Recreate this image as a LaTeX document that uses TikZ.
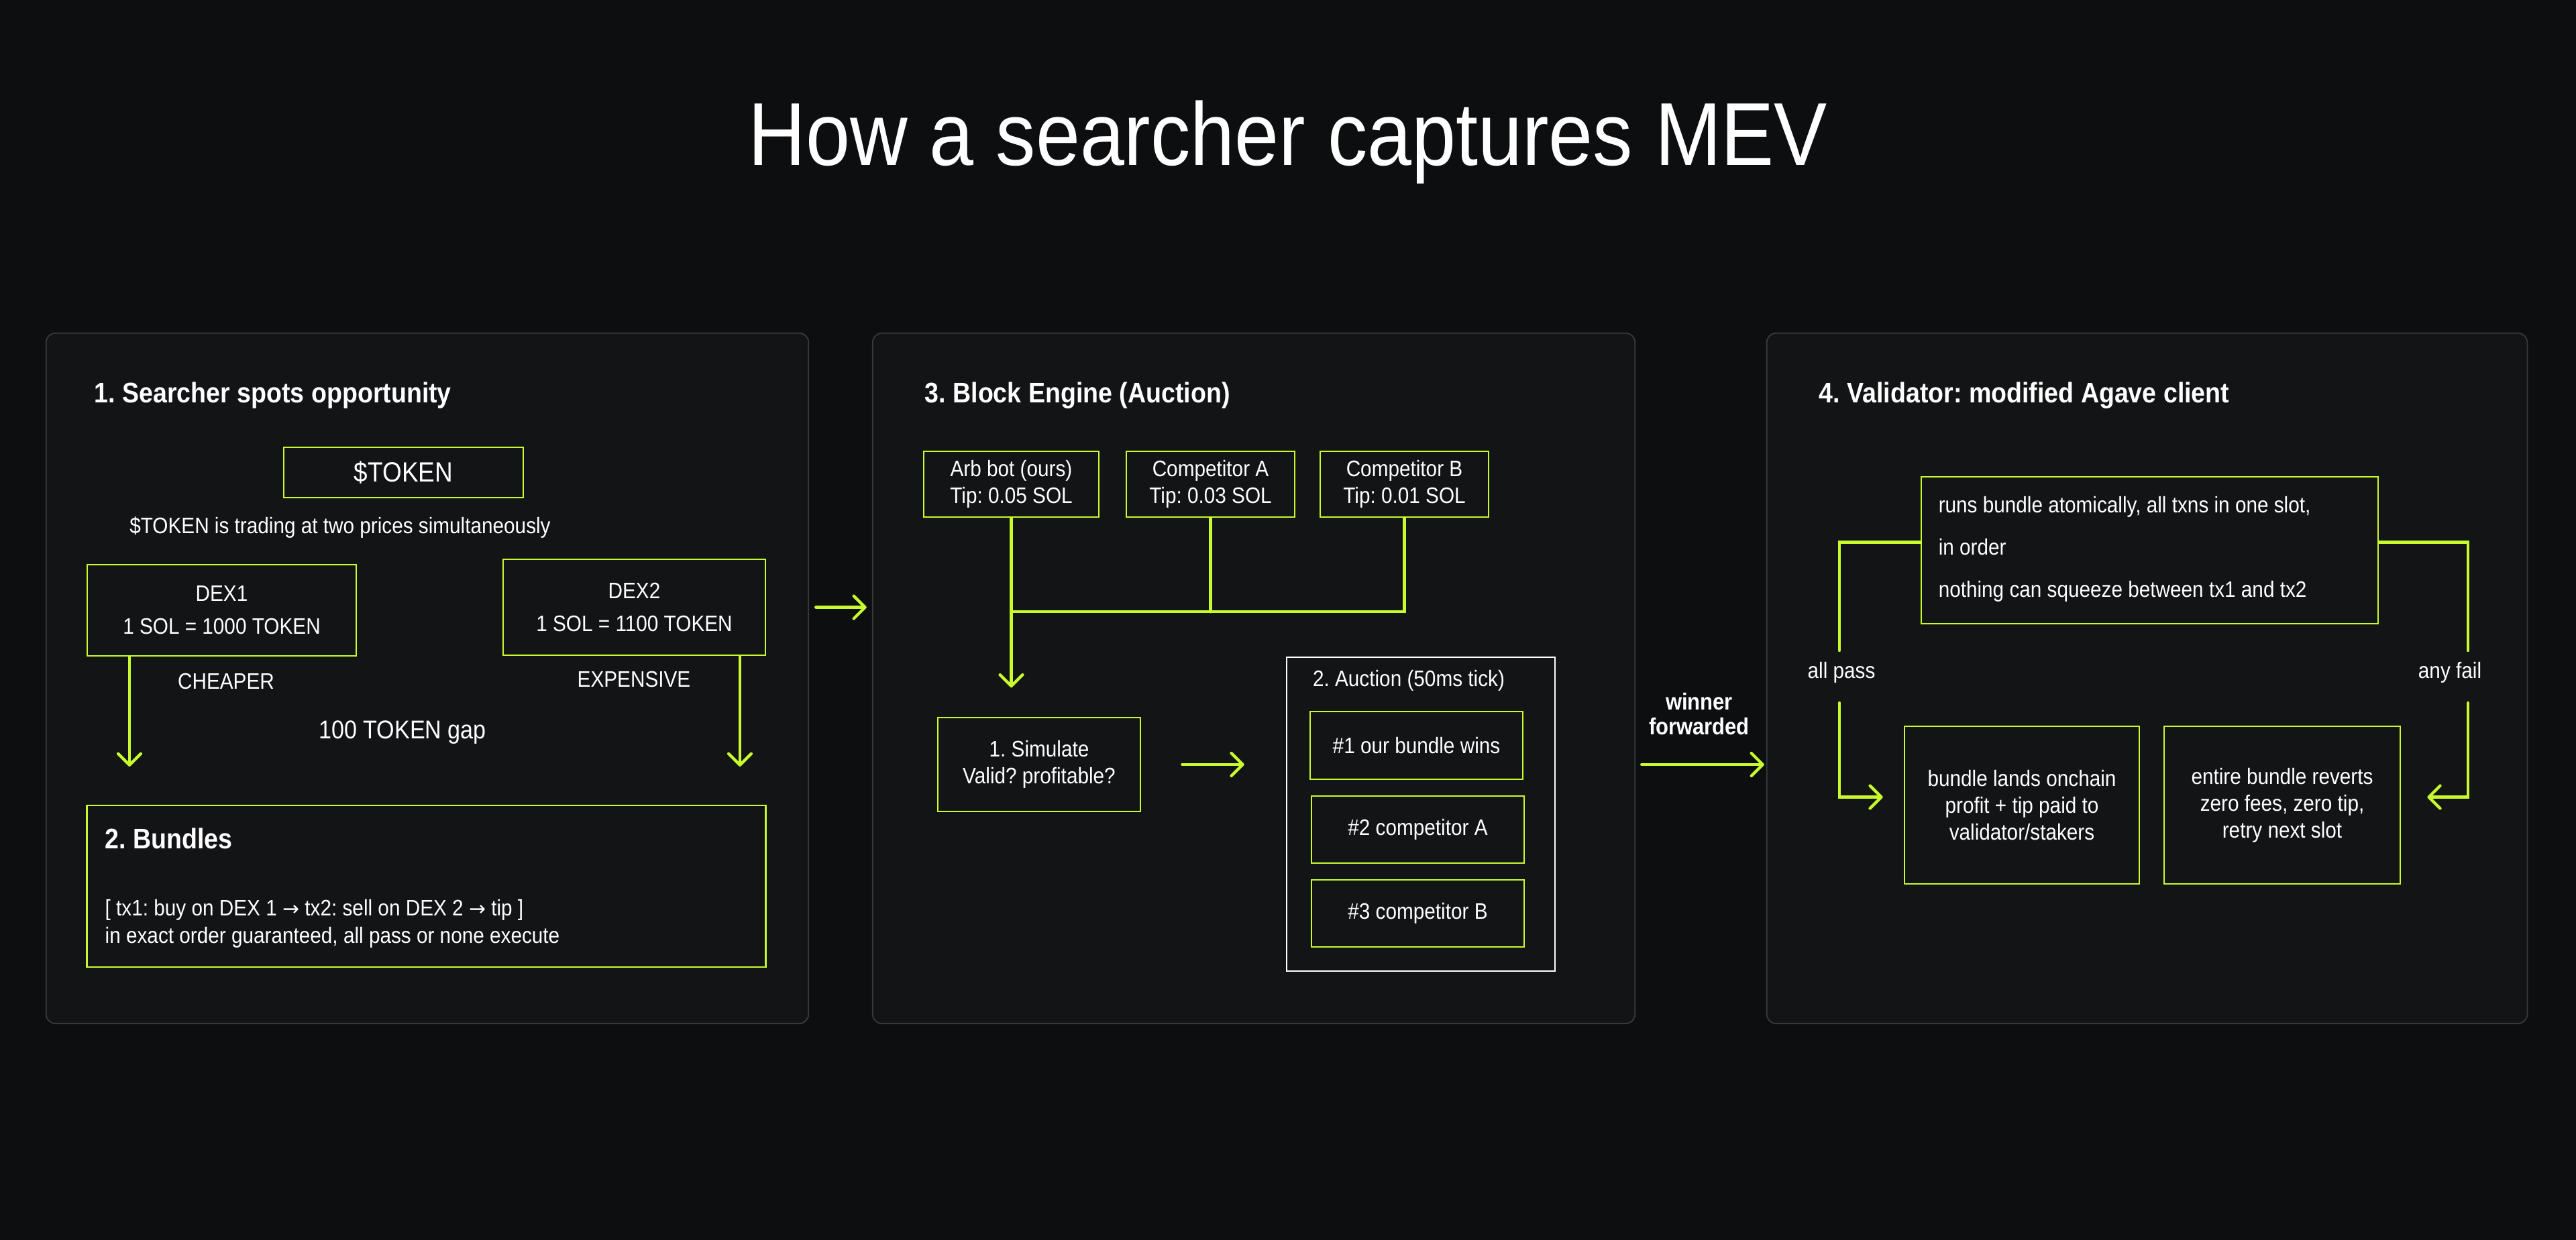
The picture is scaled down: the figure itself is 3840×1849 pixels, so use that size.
\documentclass[tikz,border=0pt]{standalone}
\usepackage{fontspec}
\setmainfont{Liberation Sans}[FakeStretch=0.89]
\newfontfamily\symfont{DejaVu Sans}
\usepackage{tikz}
\usetikzlibrary{positioning,arrows.meta,calc}
\definecolor{lime}{HTML}{C8FA2D}
\definecolor{bgdark}{HTML}{0D0E10}
\definecolor{card}{HTML}{131416}
\definecolor{cardline}{HTML}{3A3B3E}
\newcommand{\bodyfont}{\fontsize{9.5}{11.4}\selectfont}
\newcommand{\hdrfont}{\fontsize{12}{14}\selectfont\bfseries}
\newcommand{\tonext}{{\symfont\fontsize{8.5}{10}\selectfont →}}
\frenchspacing
\tikzset{
  panel/.style = {draw=cardline, fill=card, rounded corners=4pt, line width=0.5pt, inner sep=0pt},
  box/.style   = {draw=lime, line width=0.7pt, text=white, align=center, inner sep=0pt, font=\bodyfont},
  wire/.style  = {draw=lime, line width=1.25pt, line cap=round},
  flow/.style  = {wire, -{Straight Barb[length=4.8pt,width=9.6pt,round]}},
  lbl/.style   = {text=white, font=\bodyfont, align=center, inner sep=0pt},
  hdr/.style   = {text=white, font=\hdrfont, anchor=base west, inner sep=0pt},
}

\begin{document}
\begin{tikzpicture}[x=0.01cm, y=-0.01cm]
  \fill[bgdark] (0,0) rectangle (3840,1849);
  \useasboundingbox (0,0) rectangle (3840,1849);

  \node[text=white, font=\fontsize{37.9}{40}\selectfont, anchor=base, inner sep=0pt] (ttl) at (1920,247) {How a searcher captures MEV};

  % three panels
  \node[panel, minimum width=11.36cm, minimum height=10.29cm] (p1) at (637,1011.5) {};
  \node[panel, minimum width=11.36cm, minimum height=10.29cm] (p2) at (1869,1011.5) {};
  \node[panel, minimum width=11.33cm, minimum height=10.29cm] (p3) at (3200.5,1011.5) {};

  % 1. searcher
  \node[hdr] (h1) at (140,600) {1. Searcher spots opportunity};
  \node[box, minimum width=3.57cm, minimum height=0.75cm, font=\fontsize{11.8}{14}\selectfont] (tok) at (601.5,704.5) {\$TOKEN};
  \node[lbl] (two) at (507,787) {\$TOKEN is trading at two prices simultaneously};
  \node[box, minimum width=4.01cm, minimum height=1.36cm, font=\fontsize{9.5}{13.9}\selectfont] (dexa) at (330.5,910) {DEX1\\1 SOL = 1000 TOKEN};
  \node[box, minimum width=3.91cm, minimum height=1.43cm, font=\fontsize{9.5}{13.9}\selectfont] (dexb) at (945.5,905.5) {DEX2\\1 SOL = 1100 TOKEN};
  \node[lbl] (cheap) at (337,1016) {CHEAPER};
  \node[lbl] (dear) at (945,1013) {EXPENSIVE};
  \node[lbl, font=\fontsize{10.9}{13}\selectfont] (gap) at (600,1092) {100 TOKEN gap};
  \coordinate (ca) at (193,1143);
  \coordinate (cb) at (1103,1143);
  \draw[flow] (dexa.south -| ca) -- (ca);
  \draw[flow] (dexb.south -| cb) -- (cb);
  \node[box, minimum width=10.11cm, minimum height=2.41cm] (bund) at (635.5,1321.5) {};
  \node[hdr] (h2) at (156,1265) {2. Bundles};
  \node[lbl, anchor=base west, align=left] (txs) at (156,1406)
    {[ tx1: buy on DEX 1 \tonext\ tx2: sell on DEX 2 \tonext\ tip ]\\in exact order guaranteed, all pass or none execute};

  \draw[flow, shorten <=0.1cm, shorten >=0.08cm] (p1.east |- dexb) -- (p2.west |- dexb);

  % 3. block engine
  \node[hdr] (h3) at (1378,600) {3. Block Engine (Auction)};
  \node[box, minimum width=2.61cm, minimum height=0.98cm] (arb) at (1507.5,722) {Arb bot (ours)\\Tip: 0.05 SOL};
  \node[box, minimum width=2.51cm, minimum height=0.98cm] (compa) at (1804.5,722) {Competitor A\\Tip: 0.03 SOL};
  \node[box, minimum width=2.51cm, minimum height=0.98cm] (compb) at (2093.5,722) {Competitor B\\Tip: 0.01 SOL};
  \coordinate (jn) at ($(arb.south)+(0,140)$);
  \coordinate (simin) at ($(jn)+(0,113)$);
  \draw[wire] (arb.south) -- (jn) -| (compb.south);
  \draw[wire] (compa.south) -- (compa.south |- jn);
  \draw[flow] (jn) -- (simin);
  \node[box, minimum width=3.02cm, minimum height=1.40cm] (sim) at (1549,1140) {1. Simulate\\Valid? profitable?};
  \node[box, draw=white, minimum width=4.00cm, minimum height=4.68cm] (auc) at (2118,1214) {};
  \node[lbl] (auch) at (2100,1015) {2. Auction (50ms tick)};
  \node[box, minimum width=3.17cm, minimum height=1.01cm] (r1) at (2111.5,1111.5) {\#1 our bundle wins};
  \node[box, minimum width=3.17cm, minimum height=1.00cm] (r2) at (2113.5,1237) {\#2 competitor A};
  \node[box, minimum width=3.17cm, minimum height=1.00cm] (r3) at (2113.5,1362) {\#3 competitor B};
  \draw[flow, shorten <=0.61cm, shorten >=0.62cm] (sim.east) -- (auc.west |- sim);

  \node[lbl, font=\fontsize{9.9}{10.5}\selectfont\bfseries] (win) at (2533,1065) {winner\\forwarded};
  \draw[flow, shorten <=0.09cm, shorten >=0.03cm] (p2.east |- sim) -- (p3.west |- sim);

  % 4. validator
  \node[hdr] (h4) at (2711,600) {4. Validator: modified Agave client};
  \node[box, minimum width=6.81cm, minimum height=2.19cm] (run) at (3204.5,820.5) {};
  \node[lbl, anchor=base west, align=left, font=\fontsize{9.5}{17.9}\selectfont] (runtxt) at (2889,890)
    {runs bundle atomically, all txns in one slot,\\in order\\nothing can squeeze between tx1 and tx2};
  \node[box, minimum width=3.50cm, minimum height=2.35cm] (land) at (3014,1200.5) {bundle lands onchain\\profit + tip paid to\\validator/stakers};
  \node[box, minimum width=3.52cm, minimum height=2.35cm] (revert) at (3402,1200.5) {entire bundle reverts\\zero fees, zero tip,\\retry next slot};
  \node[lbl] (pass) at (2745,1003) {all pass};
  \node[lbl] (fail) at (3652,1003) {any fail};
  \coordinate (pa) at (2742,970);
  \coordinate (pb) at (2742,1048);
  \coordinate (fa) at (3679,970);
  \coordinate (fb) at (3679,1048);
  \draw[wire] ($(run.west)+(0,-12)$) -| (pa);
  \draw[flow, shorten >=0.31cm] (pb) |- ($(land.west)+(0,-12)$);
  \draw[wire] ($(run.east)+(0,-12)$) -| (fa);
  \draw[flow, shorten >=0.39cm] (fb) |- ($(revert.east)+(0,-12)$);
\end{tikzpicture}
\end{document}
